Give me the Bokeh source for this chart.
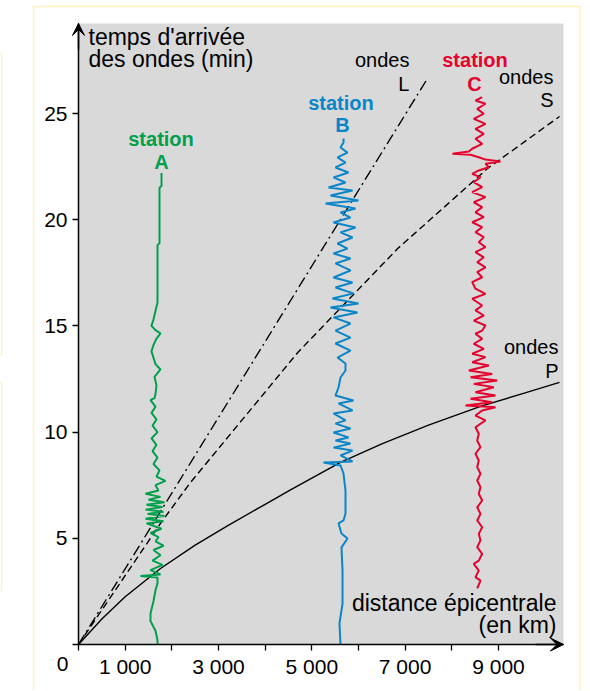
from bokeh.plotting import figure
from bokeh.models import Range1d, FixedTicker, Arrow, VeeHead, BoxAnnotation
from bokeh.core.properties import value
from bokeh.embed import file_html
from bokeh.resources import INLINE

# ---------------- data ----------------
x_ticks = [0, 1000, 2000, 3000, 4000, 5000, 6000, 7000, 8000, 9000]
x_tick_labels = ["", "1 000", "", "3 000", "", "5 000", "", "7 000", "", "9 000"]
y_ticks = [0, 5, 10, 15, 20, 25]
y_tick_labels = ["", "5", "10", "15", "20", "25"]
x_max_km = 10393
y_max_min = 29.24

# travel-time curves (distance km, time min)
p_wave_km = [0, 500, 1000, 1757, 2500, 3200, 4000, 4543, 5614, 6500, 7500, 8615, 9500, 10308]
p_wave_min = [0, 1.2, 2.25, 3.58, 4.68, 5.6, 6.6, 7.28, 8.57, 9.45, 10.33, 11.21, 11.8, 12.34]
s_wave_km = [0, 1757, 2400, 4700, 6840, 8765, 10308]
s_wave_min = [0, 5.7, 7.63, 13.75, 18.64, 22.41, 24.86]
l_wave_km = [0, 7479]
l_wave_min = [0, 26.65]

# station A seismogram (time min, trace position km)
a_min = [0.00, 0.20, 0.65, 1.10, 1.45, 2.05, 2.55, 2.90, 3.15, 3.22, 3.30, 3.50, 3.75, 3.95,
         4.20, 4.45, 4.65, 4.85, 5.05, 5.25, 5.45, 5.70, 5.80, 5.92, 6.05, 6.15, 6.25, 6.35,
         6.47, 6.58, 6.70, 6.82, 6.95, 7.10, 7.25, 7.50, 7.70, 7.90, 8.20, 8.50, 8.80, 9.10,
         9.40, 9.70, 10.00, 10.30, 10.60, 10.90, 11.20, 11.50, 11.60, 11.80, 12.20, 12.60,
         12.95, 13.20, 13.50, 13.80, 14.10, 14.40, 14.65, 14.80, 15.00, 15.30, 15.70, 16.10,
         18.80, 18.90, 21.50, 21.60, 22.20]
a_km = [1693, 1693, 1650, 1543, 1543, 1607, 1650, 1693, 1693, 1329, 1757, 1543, 1800, 1586,
        1757, 1607, 1822, 1650, 1714, 1543, 1779, 1457, 1822, 1436, 1843, 1479, 1822, 1436,
        1800, 1457, 1843, 1500, 1757, 1436, 1714, 1650, 1864, 1671, 1736, 1607, 1693, 1586,
        1671, 1564, 1693, 1586, 1671, 1564, 1650, 1543, 1629, 1650, 1671, 1629,
        1757, 1650, 1607, 1564, 1607, 1671, 1757, 1650, 1564, 1607, 1650, 1693,
        1693, 1736, 1736, 1779, 1779]

# station B seismogram
b_min = [0.00, 0.99, 1.93, 3.48, 4.57, 4.99, 5.23, 5.70, 5.84, 6.17, 7.25, 8.05, 8.43, 8.57,
         8.62, 8.90, 9.13, 9.27, 9.46, 9.60, 9.75, 9.98, 10.17, 10.40, 10.55, 10.88, 11.02,
         11.35, 11.49, 11.72, 12.10, 12.57, 12.90, 13.23, 13.51, 13.84, 14.17, 14.45, 14.78,
         15.11, 15.40, 15.63, 15.87, 16.05, 16.29, 16.53, 16.81, 17.04, 17.28, 17.61, 17.94,
         18.17, 18.41, 18.64, 18.88, 19.16, 19.40, 19.63, 19.87, 20.10, 20.34, 20.53, 20.76,
         20.90, 21.14, 21.37, 21.52, 21.75, 21.99, 22.22, 22.46, 22.69, 22.93, 23.16, 23.40,
         23.63, 23.82]
b_km = [5615, 5593, 5658, 5658, 5636, 5765, 5636, 5572, 5679, 5722, 5722, 5679, 5615, 5250,
        5872, 5615, 5872, 5465, 5829, 5507, 5786, 5465, 5829, 5507, 5722, 5465, 5872,
        5572, 5893, 5507, 5572, 5615, 5722, 5722, 5550, 5829, 5507, 5829, 5507,
        5829, 5465, 5979, 5400, 6000, 5443, 5893, 5507, 5872, 5465, 5829, 5507,
        5829, 5465, 5765, 5550, 5872, 5615, 5936, 5465, 5829, 5615, 5936, 5293,
        6000, 5400, 5872, 5358, 5722, 5465, 5786, 5507, 5722, 5550, 5765, 5615,
        5679, 5679]

# station C seismogram
c_min = [2.64, 3.01, 3.17, 3.48, 3.80, 3.95, 4.27, 4.58, 4.90, 5.21, 5.52, 5.84, 6.15, 6.46,
         6.78, 7.10, 7.41, 7.72, 8.04, 8.35, 8.66, 8.98, 9.29, 9.60, 9.92, 10.23, 10.55, 10.78,
         11.02, 11.17, 11.25, 11.41, 11.57, 11.72, 11.88, 12.11, 12.27, 12.43, 12.58, 12.74,
         12.90, 13.14, 13.29, 13.53, 13.69, 13.92, 14.16, 14.39, 14.63, 14.78, 15.02, 15.25,
         15.49, 15.73, 15.96, 16.28, 16.51, 16.75, 17.06, 17.29, 17.53, 17.76, 18.00, 18.23,
         18.47, 18.71, 18.94, 19.18, 19.41, 19.65, 19.88, 20.12, 20.35, 20.59, 20.82, 21.06,
         21.30, 21.53, 21.77, 22.00, 22.16, 22.32, 22.47, 22.63, 22.74, 22.83, 22.94, 23.06,
         23.10, 23.21, 23.34, 23.57, 23.81, 24.04, 24.28, 24.51, 24.75, 24.99, 25.22, 25.46,
         25.61, 25.77]
c_km = [8544, 8615, 8507, 8578, 8471, 8578, 8651, 8544, 8615, 8578, 8651, 8544, 8615, 8544,
        8651, 8578, 8615, 8544, 8615, 8544, 8578, 8507, 8615, 8544, 8578, 8507, 8722, 8507,
        8651, 8936, 8293, 8866, 8401, 8936, 8507, 8900, 8471, 8973, 8401, 8866,
        8364, 8793, 8437, 8722, 8437, 8686, 8471, 8651, 8507, 8651, 8722, 8471,
        8686, 8507, 8651, 8437, 8722, 8507, 8437, 8651, 8544, 8722, 8544, 8686,
        8507, 8722, 8578, 8686, 8507, 8651, 8437, 8686, 8507, 8651, 8471, 8722,
        8437, 8651, 8471, 8615, 8437, 8578, 8793, 8722, 9043, 8722, 8578, 8401,
        8015, 8364, 8437, 8651, 8507, 8686, 8507, 8722, 8471, 8686, 8544, 8722,
        8507, 8651]

# ---------------- figure ----------------
FONT = "Liberation Sans"
GREEN = "#00A04B"
BLUE = "#0A86C8"
RED = "#E3032D"
YELLOW = "#F8D530"

W, H = 588, 690
KM_PER_PX = 21.43
MIN_PER_PX = 1 / 21.24
X0_PX, Y0_PX = 78, 644  # canvas position of the origin
TEXT_SHIFT = 8 * MIN_PER_PX  # baseline correction for svg text

p = figure(width=W, height=H,
           x_range=Range1d(-X0_PX * KM_PER_PX, (W - X0_PX) * KM_PER_PX),
           y_range=Range1d((Y0_PX - H) * MIN_PER_PX, Y0_PX * MIN_PER_PX),
           output_backend="svg", toolbar_location=None,
           min_border=0, min_border_left=0, min_border_right=0,
           min_border_top=0, min_border_bottom=0)
p.background_fill_color = "white"
p.border_fill_color = "white"
p.outline_line_color = None
p.grid.visible = False

# plot area (gray)
p.add_layout(BoxAnnotation(left=0, right=x_max_km, bottom=0, top=y_max_min,
                           fill_color="#D9D9D9", fill_alpha=1, line_color=None,
                           level="underlay"))

# yellow frame of the document page
p.add_layout(BoxAnnotation(left=(33 - X0_PX) * KM_PER_PX, right=(579.5 - X0_PX) * KM_PER_PX,
                           top=(Y0_PX - 6) * MIN_PER_PX, bottom=(Y0_PX - 720) * MIN_PER_PX,
                           fill_alpha=0, line_color=YELLOW, line_width=1.5, level="underlay"))
# neighbouring frame edges at the far left
for top_px, bottom_px in ((53, 355), (382, 590)):
    p.add_layout(BoxAnnotation(left=(-30 - X0_PX) * KM_PER_PX, right=(1 - X0_PX) * KM_PER_PX,
                               top=(Y0_PX - top_px) * MIN_PER_PX,
                               bottom=(Y0_PX - bottom_px) * MIN_PER_PX,
                               fill_alpha=0, line_color=YELLOW, line_width=1.5,
                               level="underlay"))

for ax in (p.xaxis[0], p.yaxis[0]):
    ax.fixed_location = 0
    ax.axis_line_color = "black"
    ax.axis_line_width = 1.5
    ax.major_tick_line_color = "black"
    ax.major_tick_line_width = 1.3
    ax.major_tick_out = 6
    ax.major_tick_in = 0
    ax.minor_tick_line_color = None
    ax.major_label_text_font = FONT
    ax.major_label_text_font_size = "21px"
    ax.major_label_text_color = "black"

p.xaxis.bounds = (0, x_max_km)
p.yaxis.bounds = (0, y_max_min)
p.xaxis.ticker = FixedTicker(ticks=x_ticks)
p.xaxis.major_label_overrides = dict(zip(x_ticks, x_tick_labels))
p.xaxis.major_label_standoff = 4
p.yaxis.ticker = FixedTicker(ticks=y_ticks)
p.yaxis.major_label_overrides = dict(zip(y_ticks, y_tick_labels))
p.yaxis.major_label_standoff = 5

# axis arrows
p.add_layout(Arrow(end=VeeHead(size=12, fill_color="black", line_color="black", line_width=1),
                   x_start=0, y_start=28.0, x_end=0, y_end=y_max_min, line_width=1.5))
p.add_layout(Arrow(end=VeeHead(size=13, fill_color="black", line_color="black", line_width=1),
                   x_start=9800, y_start=0, x_end=x_max_km, y_end=0, line_width=1.5))

# travel-time curves
p.line(p_wave_km, p_wave_min, line_color="black", line_width=1.4)
p.line(s_wave_km, s_wave_min, line_color="black", line_width=1.4, line_dash="7 4")
p.line(l_wave_km, l_wave_min, line_color="black", line_width=1.4, line_dash="11 4 2 4")

# seismograms
p.line(a_km, a_min, line_color=GREEN, line_width=2)
p.line(b_km, b_min, line_color=BLUE, line_width=2)
p.line(c_km, c_min, line_color=RED, line_width=2)

def txt(x, y, s, align, color="black", bold=False, size="20px", shift=TEXT_SHIFT):
    p.text(x=[x], y=[y + shift], text=[s], text_font=value(FONT), text_font_size=value(size),
           text_align=align, text_baseline="alphabetic", text_color=color,
           text_font_style="bold" if bold else "normal")

txt(-343, -1.37, "0", "center", size="21px", shift=10 * MIN_PER_PX)
txt(214, 28.23, "temps d'arrivée", "left", size="23px")
txt(214, 27.18, "des ondes (min)", "left", size="23px")
txt(10243, 1.57, "distance épicentrale", "right", size="23px")
txt(10243, 0.53, "(en km)", "right", size="23px")

txt(7093, 27.12, "ondes", "right")
txt(7093, 25.99, "L", "right")
txt(10179, 26.32, "ondes", "right")
txt(10179, 25.24, "S", "right")
txt(10286, 13.61, "ondes", "right")
txt(10286, 12.52, "P", "right")

txt(1768, 23.40, "station", "center", GREEN, True)
txt(1779, 22.32, "A", "center", GREEN, True)
txt(5625, 25.14, "station", "center", BLUE, True)
txt(5657, 24.10, "B", "center", BLUE, True)
txt(8497, 27.12, "station", "center", RED, True)
txt(8486, 25.99, "C", "center", RED, True)

open("out.html", "w").write(file_html(p, INLINE))
